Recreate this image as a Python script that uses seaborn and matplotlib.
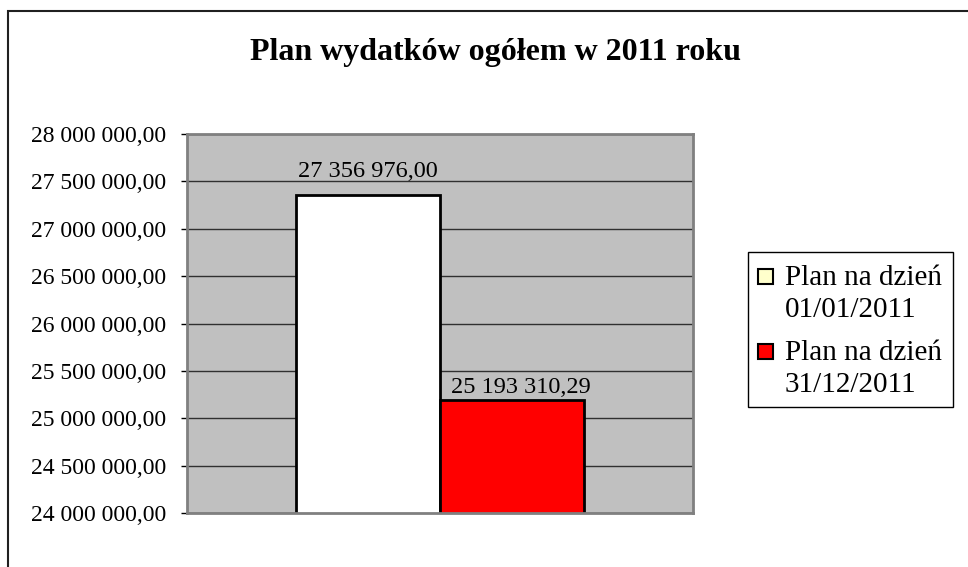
import pandas as pd
import numpy as np
import matplotlib
matplotlib.use('Agg')
import matplotlib.pyplot as plt
import seaborn as sns
from matplotlib.patches import Rectangle
from matplotlib.ticker import FuncFormatter

# data
series = ['Plan na dzień\n01/01/2011', 'Plan na dzień\n31/12/2011']
values = [27356976.00, 25193310.29]
bar_colors = ['#FFFFFF', '#FF0000']
legend_colors = ['#FFFFCC', '#FF0000']
y_ticks = [24000000, 24500000, 25000000, 25500000, 26000000,
           26500000, 27000000, 27500000, 28000000]

df = pd.DataFrame({'grp': [''] * len(values), 'series': series, 'value': values})

W, H = 968, 567
# label offsets (points) as Excel placed them
label_dx = [0, 6]
label_dy = [13, 5]


def pl_format(v, pos=None):
    # polish style: space as thousands separator, comma as decimal mark
    s = f'{v:,.2f}'
    return s.replace(',', ' ').replace('.', ',')


def fx(px):
    return px / W


def fy(py):
    return 1 - py / H


sns.set_style('white')
plt.rcParams['font.family'] = ['Liberation Serif', 'DejaVu Serif']
plt.rcParams['text.color'] = 'black'
plt.rcParams['ytick.color'] = 'black'
plt.rcParams['ytick.labelcolor'] = 'black'

fig = plt.figure(figsize=(W / 100, H / 100), dpi=100)
ax = fig.add_axes([fx(187), fy(513), (693 - 187) / W, (513 - 134) / H])
ax.set_facecolor('#C0C0C0')

sns.barplot(data=df, x='grp', y='value', hue='series', palette=bar_colors,
            saturation=1, width=0.57, edgecolor='black', linewidth=2, ax=ax,
            legend=False)

ax.set_ylim(24000000, 28000000)
ax.set_xlim(-0.5, 0.5)
ax.set_yticks(y_ticks)
ax.yaxis.set_major_formatter(FuncFormatter(pl_format))
ax.yaxis.grid(True, color='#303030', linewidth=1)
ax.set_axisbelow(True)
ax.set_xticks([])
ax.set_xlabel('')
ax.set_ylabel('')
ax.tick_params(axis='y', which='both', left=True, length=4.5, width=1,
               color='black', labelcolor='black', labelsize=17, pad=10.5)
for sp in ax.spines.values():
    sp.set_color('#808080')
    sp.set_linewidth(2)

# value labels above bars
bars = [c.patches[0] for c in ax.containers]
for bar, dx, dy in zip(bars, label_dx, label_dy):
    xc = bar.get_x() + bar.get_width() / 2
    h = bar.get_y() + bar.get_height()
    ax.annotate(pl_format(h), xy=(xc, h), xytext=(dx, dy),
                textcoords='offset points', ha='center', va='baseline',
                fontsize=17.5, color='black', annotation_clip=False)

fig.text(fx(495.5), fy(60), 'Plan wydatków ogółem w 2011 roku',
         ha='center', va='baseline', fontsize=23, fontweight='bold',
         color='black')

# legend drawn by hand so the square sits next to the first text line
fig.patches.append(Rectangle((fx(748), fy(407)), (953 - 748) / W, (407 - 252) / H,
                             transform=fig.transFigure, facecolor='white',
                             edgecolor='black', linewidth=1))
entry_top = [269, 344]
for lab, col, top in zip(series, legend_colors, entry_top):
    fig.patches.append(Rectangle((fx(758), fy(top + 15)), 15 / W, 15 / H,
                                 transform=fig.transFigure, facecolor=col,
                                 edgecolor='black', linewidth=1.5))
    line1, line2 = lab.split('\n')
    fig.text(fx(785), fy(top + 16), line1, fontsize=21, va='baseline',
             ha='left', color='black')
    fig.text(fx(785), fy(top + 48), line2, fontsize=21, va='baseline',
             ha='left', color='black')

# chart area border (right and bottom lie outside the picture)
fig.patches.append(Rectangle((fx(8), -0.1), 1.2, fy(11) + 0.1,
                             transform=fig.transFigure, fill=False,
                             edgecolor='#202020', linewidth=1.5))

fig.savefig('out.png', dpi=100)
